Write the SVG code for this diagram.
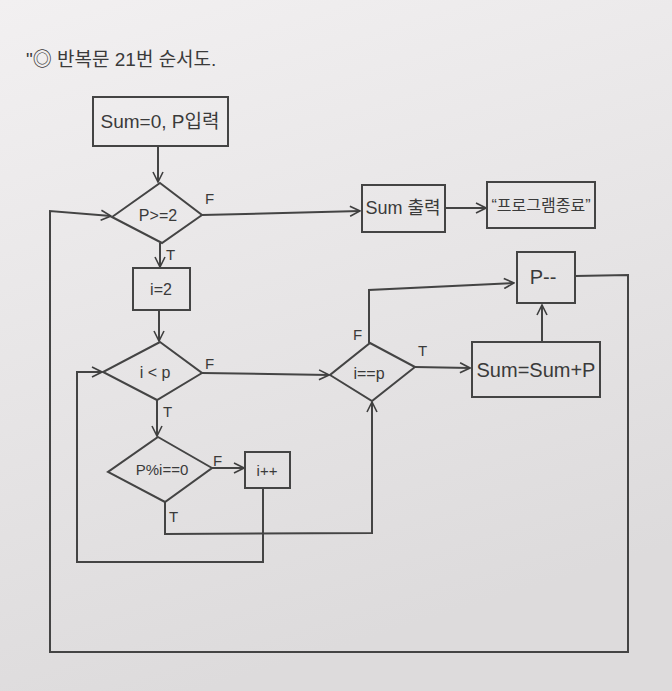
<svg xmlns="http://www.w3.org/2000/svg" width="672" height="691" viewBox="0 0 672 691">
<defs>
<linearGradient id="paper" x1="0" y1="0" x2="0.3" y2="1">
<stop offset="0" stop-color="#f2f0f1"/>
<stop offset="1" stop-color="#dddbdc"/>
</linearGradient>
<marker id="arr" viewBox="0 0 12 12" refX="11" refY="6" markerWidth="12" markerHeight="12" markerUnits="userSpaceOnUse" orient="auto">
<path d="M1,1 L11,6 L1,11" fill="none" stroke="#3f3f3f" stroke-width="1.6"/>
</marker>
<style>
.shape{fill:none;stroke:#444;stroke-width:2}
.line{fill:none;stroke:#444;stroke-width:2}
.t{font-family:"Liberation Sans","Noto Sans CJK KR",sans-serif;font-size:18px;fill:#3a3a3a;text-anchor:middle}
.lab{font-family:"Liberation Sans",sans-serif;font-size:15px;fill:#3a3a3a}
.title{font-family:"Liberation Sans","Noto Sans CJK KR",sans-serif;font-size:19px;fill:#3a3a3a}
</style>
</defs>
<rect width="672" height="691" fill="url(#paper)"/>
<text class="title" x="26" y="66">"◎ 반복문  21번  순서도.</text>

<g id="connectors">
<path class="line" d="M158,147 L158,182" marker-end="url(#arr)"/>
<path class="line" d="M202,215 L360,211" marker-end="url(#arr)"/>
<path class="line" d="M445,208 L486,208" marker-end="url(#arr)"/>
<path class="line" d="M160,243 L160,267" marker-end="url(#arr)"/>
<path class="line" d="M159,310 L159,341" marker-end="url(#arr)"/>
<path class="line" d="M202,373 L329,375" marker-end="url(#arr)"/>
<path class="line" d="M415,367 L470,368" marker-end="url(#arr)"/>
<path class="line" d="M369,343 L369,290 L514,283" marker-end="url(#arr)"/>
<path class="line" d="M542,342 L542,305" marker-end="url(#arr)"/>
<path class="line" d="M575,276 L628,275 L628,652 L50,652 L50,211 L111,216" marker-end="url(#arr)"/>
<path class="line" d="M157,400 L157,436" marker-end="url(#arr)"/>
<path class="line" d="M212,468 L244,468" marker-end="url(#arr)"/>
<path class="line" d="M263,488 L263,562 L77,562 L77,372 L102,372" marker-end="url(#arr)"/>
<path class="line" d="M165,502 L165,534 L372,533 L372,402" marker-end="url(#arr)"/>
<text class="lab" x="205" y="204">F</text>
<text class="lab" x="166" y="260">T</text>
<text class="lab" x="205" y="369">F</text>
<text class="lab" x="163" y="417">T</text>
<text class="lab" x="353" y="340">F</text>
<text class="lab" x="418" y="356">T</text>
<text class="lab" x="213" y="466">F</text>
<text class="lab" x="169" y="522">T</text>
</g>

<g id="start">
<rect class="shape" x="93" y="97" width="135" height="49"/>
<text class="t" x="160" y="128" style="font-size:19px">Sum=0, P입력</text>
</g>
<g id="cond-p">
<polygon class="shape" points="160,183 202,215 162,243 112,217"/>
<text class="t" x="158" y="221" style="font-size:16px">P&gt;=2</text>
</g>
<g id="print-sum">
<rect class="shape" x="362" y="185" width="83" height="47"/>
<text class="t" x="403" y="214">Sum 출력</text>
</g>
<g id="end">
<rect class="shape" x="487" y="182" width="108" height="46"/>
<text class="t" x="541" y="211" style="font-size:16px">“프로그램종료”</text>
</g>
<g id="init-i">
<rect class="shape" x="133" y="268" width="57" height="42"/>
<text class="t" x="161" y="295" style="font-size:16px">i=2</text>
</g>
<g id="cond-i">
<polygon class="shape" points="160,342 202,373 157,400 103,372"/>
<text class="t" x="155" y="378" style="font-size:16px">i &lt; p</text>
</g>
<g id="cond-mod">
<polygon class="shape" points="158,437 212,468 165,502 108,472"/>
<text class="t" x="162" y="475" style="font-size:15px">P%i==0</text>
</g>
<g id="inc-i">
<rect class="shape" x="245" y="452" width="45" height="36"/>
<text class="t" x="267" y="476" style="font-size:15px">i++</text>
</g>
<g id="cond-eq">
<polygon class="shape" points="370,343 415,367 372,401 330,375"/>
<text class="t" x="369" y="379" style="font-size:16px">i==p</text>
</g>
<g id="add-sum">
<rect class="shape" x="472" y="342" width="128" height="55"/>
<text class="t" x="536" y="377" style="font-size:20px">Sum=Sum+P</text>
</g>
<g id="dec-p">
<rect class="shape" x="517" y="252" width="58" height="51"/>
<text class="t" x="543" y="284" style="font-size:20px">P--</text>
</g>
</svg>
